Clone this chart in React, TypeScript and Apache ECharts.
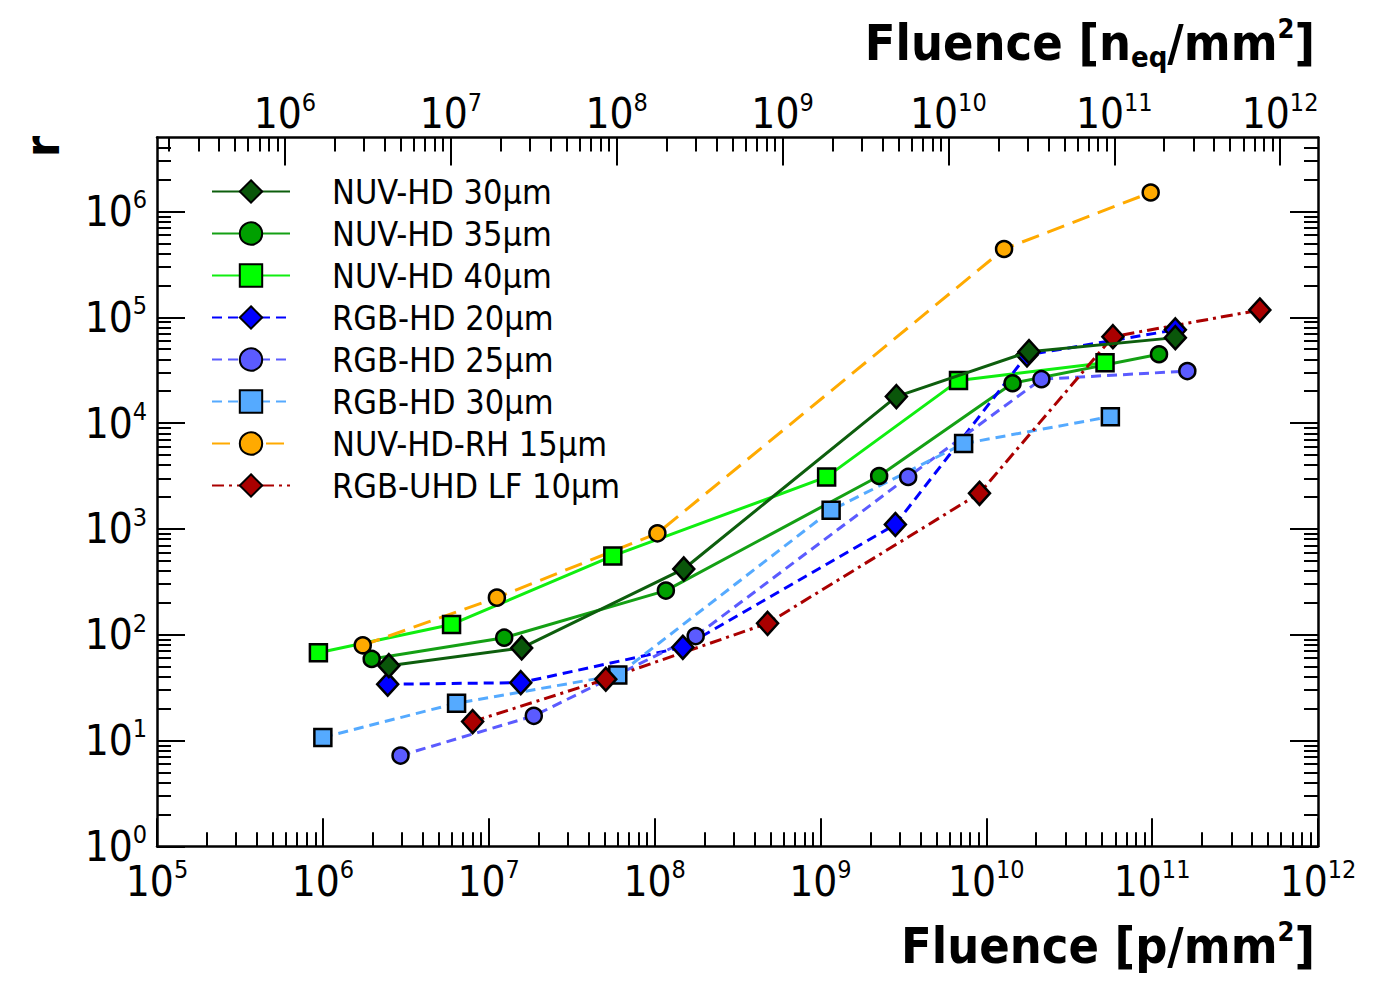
import React, { useEffect, useRef } from "react";
import * as echarts from "echarts";

const FONT = '"DejaVu Sans Condensed", "DejaVu Sans", sans-serif';

// ---- data (fluence in p/mm^2, r) ----
const NAMES = [
  "NUV-HD 30µm",
  "NUV-HD 35µm",
  "NUV-HD 40µm",
  "RGB-HD 20µm",
  "RGB-HD 25µm",
  "RGB-HD 30µm",
  "NUV-HD-RH 15µm",
  "RGB-UHD LF 10µm",
];

const nuv30X = [2.5e6, 1.58e7, 1.5e8, 2.87e9, 1.81e10, 1.38e11];
const nuv30Y = [50.9, 74.9, 418, 1.78e4, 4.73e4, 6.42e4];
const nuv35X = [1.97e6, 1.24e7, 1.17e8, 2.26e9, 1.44e10, 1.1e11];
const nuv35Y = [59, 93.7, 261, 3.16e3, 2.38e4, 4.47e4];
const nuv40X = [9.4e5, 5.97e6, 5.6e7, 1.09e9, 6.8e9, 5.2e10];
const nuv40Y = [67.6, 125, 555, 3.1e3, 2.52e4, 3.72e4];
const rgb20X = [2.46e6, 1.56e7, 1.48e8, 2.83e9, 1.76e10, 1.38e11];
const rgb20Y = [34, 35.2, 76, 1.1e3, 4.4e4, 7.6e4];
const rgb25X = [2.94e6, 1.87e7, 1.77e8, 3.38e9, 2.15e10, 1.63e11];
const rgb25Y = [7.2, 17.1, 97, 3.1e3, 2.6e4, 3.1e4];
const rgb30X = [1.0e6, 6.4e6, 6.0e7, 1.16e9, 7.3e9, 5.6e10];
const rgb30Y = [10.7, 22.5, 41.6, 1.5e3, 6.4e3, 1.15e4];
const rh15X = [1.74e6, 1.12e7, 1.04e8, 1.28e10, 9.8e10];
const rh15Y = [79.4, 224, 908, 4.42e5, 1.51e6];
const uhd10X = [8.0e6, 5.08e7, 4.8e8, 9.1e9, 5.8e10, 4.46e11];
const uhd10Y = [15.1, 37.9, 128, 2.17e3, 6.56e4, 1.17e5];

// ---- axes (decades) ----
const X_MIN_EXP = 5;
const X_MAX_EXP = 12;
const Y_MIN_EXP = 0;
const Y_MAX_VALUE = 5e6;
const TOP_SHIFT = 0.2284; // log10(n_eq / p)
const X_EXPONENTS = [5, 6, 7, 8, 9, 10, 11, 12];
const TOP_EXPONENTS = [6, 7, 8, 9, 10, 11, 12];
const Y_EXPONENTS = [0, 1, 2, 3, 4, 5, 6];
const MANTISSAS = [2, 3, 4, 5, 6, 7, 8, 9];

function minorTicks(lo: number, hi: number): number[] {
  const out: number[] = [];
  for (let e = Math.floor(lo); e <= Math.ceil(hi); e++) {
    for (const m of MANTISSAS) {
      const v = e + Math.log10(m);
      if (v > lo + 1e-6 && v < hi - 1e-6) out.push(v);
    }
  }
  return out;
}

function App() {
  const ref = useRef<HTMLDivElement>(null);

  useEffect(() => {
    if (!ref.current) return;
    const chart = echarts.init(ref.current, undefined, { renderer: "svg" });

    const Y_MAX = Math.log10(Y_MAX_VALUE);
    const TOP_MIN = X_MIN_EXP + TOP_SHIFT;
    const TOP_MAX = X_MAX_EXP + TOP_SHIFT;

    const labelRich = {
      main: { fontSize: 42, lineHeight: 48, fontFamily: FONT, color: "#000" },
      sup: { fontSize: 25, fontFamily: FONT, color: "#000", verticalAlign: "top" },
    };
    const fmt = (v: number) => `{main|10}{sup|${Math.round(v)}}`;

    const axisLine = { show: true, onZero: false, lineStyle: { color: "#000", width: 2.5 } };
    const majorTick = (vals: number[]) => ({
      show: true,
      inside: true,
      length: 28,
      customValues: vals,
      lineStyle: { color: "#000", width: 2 },
    });
    const minorTick = (vals: number[]) => ({
      show: true,
      inside: true,
      length: 14,
      customValues: vals,
      lineStyle: { color: "#000", width: 2 },
    });
    const noLabel = { show: false };
    const noSplit = { show: false };

    const xAxis = [
      {
        type: "value",
        position: "bottom",
        min: X_MIN_EXP,
        max: X_MAX_EXP,
        axisLine,
        axisTick: majorTick(X_EXPONENTS),
        axisLabel: { customValues: X_EXPONENTS, formatter: fmt, rich: labelRich, margin: 11 },
        splitLine: noSplit,
      },
      {
        type: "value",
        position: "bottom",
        min: X_MIN_EXP,
        max: X_MAX_EXP,
        axisLine: { show: false, onZero: false },
        axisTick: minorTick(minorTicks(X_MIN_EXP, X_MAX_EXP)),
        axisLabel: noLabel,
        splitLine: noSplit,
      },
      {
        type: "value",
        position: "top",
        min: TOP_MIN,
        max: TOP_MAX,
        axisLine,
        axisTick: majorTick(TOP_EXPONENTS),
        axisLabel: { customValues: TOP_EXPONENTS, formatter: fmt, rich: labelRich, margin: 0 },
        splitLine: noSplit,
      },
      {
        type: "value",
        position: "top",
        min: TOP_MIN,
        max: TOP_MAX,
        axisLine: { show: false, onZero: false },
        axisTick: minorTick(minorTicks(TOP_MIN, TOP_MAX)),
        axisLabel: noLabel,
        splitLine: noSplit,
      },
    ];

    const yAxis = [
      {
        type: "value",
        position: "left",
        min: Y_MIN_EXP,
        max: Y_MAX,
        axisLine,
        axisTick: majorTick(Y_EXPONENTS),
        axisLabel: { customValues: Y_EXPONENTS, formatter: fmt, rich: labelRich, margin: 10 },
        splitLine: noSplit,
      },
      {
        type: "value",
        position: "left",
        min: Y_MIN_EXP,
        max: Y_MAX,
        axisLine: { show: false, onZero: false },
        axisTick: minorTick(minorTicks(Y_MIN_EXP, Y_MAX)),
        axisLabel: noLabel,
        splitLine: noSplit,
      },
      {
        type: "value",
        position: "right",
        min: Y_MIN_EXP,
        max: Y_MAX,
        axisLine,
        axisTick: majorTick(Y_EXPONENTS),
        axisLabel: noLabel,
        splitLine: noSplit,
      },
      {
        type: "value",
        position: "right",
        min: Y_MIN_EXP,
        max: Y_MAX,
        axisLine: { show: false, onZero: false },
        axisTick: minorTick(minorTicks(Y_MIN_EXP, Y_MAX)),
        axisLabel: noLabel,
        splitLine: noSplit,
      },
    ];

    const toPts = (xs: number[], ys: number[]) =>
      xs.map((x, i) => [Math.log10(x), Math.log10(ys[i])]);

    const mk = (
      name: string,
      xs: number[],
      ys: number[],
      symbol: string,
      size: number | number[],
      fill: string,
      line: string,
      dash: any,
      z = 2
    ) => ({
      name,
      type: "line",
      xAxisIndex: 0,
      yAxisIndex: 0,
      data: toPts(xs, ys),
      symbol,
      symbolSize: size,
      showAllSymbol: true,
      z,
      lineStyle: { color: line, width: 3, type: dash },
      itemStyle: { color: fill, borderColor: "#000", borderWidth: 2.5 },
      emphasis: { disabled: true },
    });

    const DIA = [21, 23];
    const SQ = 17;
    const CIR = 16;

    const series = [
      mk(NAMES[0], nuv30X, nuv30Y, "diamond", DIA, "#0a560a", "#0d5e0d", "solid", 4),
      mk(NAMES[1], nuv35X, nuv35Y, "circle", CIR, "#00a000", "#14a014", "solid"),
      mk(NAMES[2], nuv40X, nuv40Y, "rect", SQ, "#00ff00", "#10ee10", "solid"),
      mk(NAMES[3], rgb20X, rgb20Y, "diamond", DIA, "#0000ff", "#0000ff", [10, 6]),
      mk(NAMES[4], rgb25X, rgb25Y, "circle", CIR, "#5b5bff", "#5b5bff", [10, 6]),
      mk(NAMES[5], rgb30X, rgb30Y, "rect", SQ, "#55aaff", "#55aaff", [10, 6]),
      mk(NAMES[6], rh15X, rh15Y, "circle", CIR, "#ffaa00", "#ffaa00", [18, 9]),
      mk(NAMES[7], uhd10X, uhd10Y, "diamond", DIA, "#aa0000", "#aa0000", [12, 5, 3, 5]),
    ];

    const titleRich = {
      sup: { fontSize: 27, fontWeight: "bold", fontFamily: FONT, fill: "#000", verticalAlign: "top" },
      sub: { fontSize: 29, fontWeight: "bold", fontFamily: FONT, fill: "#000", verticalAlign: "bottom" },
    };

    chart.setOption({
      animation: false,
      backgroundColor: "#fff",
      textStyle: { fontFamily: FONT },
      grid: {
        left: 157,
        top: 137.5,
        width: 1161,
        height: 708.8,
        containLabel: false,
        outerBoundsMode: "none",
      },
      legend: {
        show: true,
        orient: "vertical",
        left: 211,
        top: 174.5,
        padding: 0,
        itemWidth: 78,
        itemHeight: 28,
        itemGap: 8,
        selectedMode: false,
        textStyle: {
          fontFamily: FONT,
          fontSize: 34,
          color: "#000",
          padding: [0, 0, 0, 37],
        },
        data: NAMES,
      },
      xAxis,
      yAxis,
      series,
      graphic: [
        {
          type: "text",
          x: 1315,
          y: 946,
          style: {
            text: "Fluence [p/mm{sup|2}]",
            fontFamily: FONT,
            fontSize: 50,
            fontWeight: "bold",
            lineHeight: 56,
            fill: "#000",
            textAlign: "right",
            textVerticalAlign: "middle",
            rich: titleRich,
          },
        },
        {
          type: "text",
          x: 1315,
          y: 43,
          style: {
            text: "Fluence [n{sub|eq}/mm{sup|2}]",
            fontFamily: FONT,
            fontSize: 50,
            fontWeight: "bold",
            lineHeight: 56,
            fill: "#000",
            textAlign: "right",
            textVerticalAlign: "middle",
            rich: titleRich,
          },
        },
        {
          type: "text",
          x: 42,
          y: 136,
          rotation: Math.PI / 2,
          style: {
            text: "r",
            fontFamily: FONT,
            fontSize: 48,
            fontWeight: "bold",
            fill: "#000",
            textAlign: "right",
            textVerticalAlign: "middle",
          },
        },
      ],
    });

    return () => chart.dispose();
  }, []);

  return (
    <div
      ref={ref}
      style={{ position: "absolute", left: 0, top: 0, width: 1377, height: 984 }}
    />
  );
}

export default App;
